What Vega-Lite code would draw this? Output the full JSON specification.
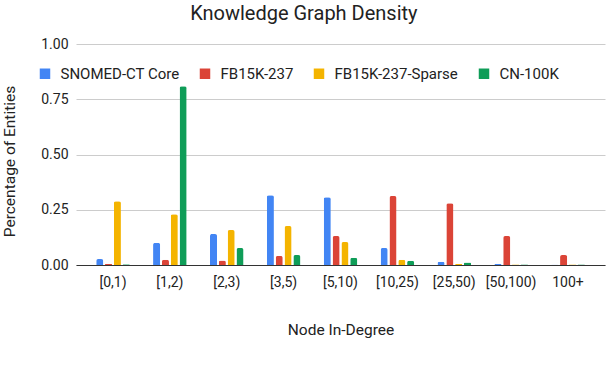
{
  "$schema": "https://vega.github.io/schema/vega-lite/v6.json",
  "autosize": {"type": "none"},
  "width": 529,
  "height": 221,
  "padding": {"left": 76, "top": 44, "right": 1, "bottom": 101},
  "background": "white",
  "title": {"text": "Knowledge Graph Density", "font": "Roboto", "fontSize": 20, "fontWeight": "normal", "color": "#222222", "anchor": "middle", "frame": "bounds", "offset": 13},
  "config": {
    "view": {"stroke": null},
    "font": "Roboto"
  },
  "data": {"values": [
    {"degree": "[0,1)", "dataset": "SNOMED-CT Core", "value": 0.027},
    {"degree": "[0,1)", "dataset": "FB15K-237", "value": 0.004},
    {"degree": "[0,1)", "dataset": "FB15K-237-Sparse", "value": 0.289},
    {"degree": "[0,1)", "dataset": "CN-100K", "value": 0.003},
    {"degree": "[1,2)", "dataset": "SNOMED-CT Core", "value": 0.100},
    {"degree": "[1,2)", "dataset": "FB15K-237", "value": 0.024},
    {"degree": "[1,2)", "dataset": "FB15K-237-Sparse", "value": 0.230},
    {"degree": "[1,2)", "dataset": "CN-100K", "value": 0.809},
    {"degree": "[2,3)", "dataset": "SNOMED-CT Core", "value": 0.140},
    {"degree": "[2,3)", "dataset": "FB15K-237", "value": 0.020},
    {"degree": "[2,3)", "dataset": "FB15K-237-Sparse", "value": 0.158},
    {"degree": "[2,3)", "dataset": "CN-100K", "value": 0.077},
    {"degree": "[3,5)", "dataset": "SNOMED-CT Core", "value": 0.316},
    {"degree": "[3,5)", "dataset": "FB15K-237", "value": 0.041},
    {"degree": "[3,5)", "dataset": "FB15K-237-Sparse", "value": 0.176},
    {"degree": "[3,5)", "dataset": "CN-100K", "value": 0.045},
    {"degree": "[5,10)", "dataset": "SNOMED-CT Core", "value": 0.307},
    {"degree": "[5,10)", "dataset": "FB15K-237", "value": 0.131},
    {"degree": "[5,10)", "dataset": "FB15K-237-Sparse", "value": 0.104},
    {"degree": "[5,10)", "dataset": "CN-100K", "value": 0.033},
    {"degree": "[10,25)", "dataset": "SNOMED-CT Core", "value": 0.077},
    {"degree": "[10,25)", "dataset": "FB15K-237", "value": 0.312},
    {"degree": "[10,25)", "dataset": "FB15K-237-Sparse", "value": 0.024},
    {"degree": "[10,25)", "dataset": "CN-100K", "value": 0.019},
    {"degree": "[25,50)", "dataset": "SNOMED-CT Core", "value": 0.015},
    {"degree": "[25,50)", "dataset": "FB15K-237", "value": 0.279},
    {"degree": "[25,50)", "dataset": "FB15K-237-Sparse", "value": 0.005},
    {"degree": "[25,50)", "dataset": "CN-100K", "value": 0.011},
    {"degree": "[50,100)", "dataset": "SNOMED-CT Core", "value": 0.005},
    {"degree": "[50,100)", "dataset": "FB15K-237", "value": 0.131},
    {"degree": "[50,100)", "dataset": "FB15K-237-Sparse", "value": 0.002},
    {"degree": "[50,100)", "dataset": "CN-100K", "value": 0.002},
    {"degree": "100+", "dataset": "SNOMED-CT Core", "value": 0.001},
    {"degree": "100+", "dataset": "FB15K-237", "value": 0.045},
    {"degree": "100+", "dataset": "FB15K-237-Sparse", "value": 0.002},
    {"degree": "100+", "dataset": "CN-100K", "value": 0.002}
  ]},
  "mark": {"type": "bar", "cornerRadiusTopLeft": 2, "cornerRadiusTopRight": 2},
  "encoding": {
    "x": {
      "field": "degree", "type": "nominal",
      "sort": ["[0,1)", "[1,2)", "[2,3)", "[3,5)", "[5,10)", "[10,25)", "[25,50)", "[50,100)", "100+"],
      "scale": {"paddingInner": 0.41, "paddingOuter": 0.355},
      "axis": {"title": "Node In-Degree", "labelAngle": 0, "labelFontSize": 14, "labelColor": "#222222", "labelPadding": 10, "ticks": false, "domainColor": "#333333", "domainWidth": 1.2, "titleFontSize": 15.5, "titleFontWeight": "normal", "titleColor": "#222222", "titlePadding": 33}
    },
    "xOffset": {
      "field": "dataset", "type": "nominal",
      "sort": ["SNOMED-CT Core", "FB15K-237", "FB15K-237-Sparse", "CN-100K"],
      "scale": {"paddingInner": 0.2, "paddingOuter": 0}
    },
    "y": {
      "field": "value", "type": "quantitative",
      "scale": {"domain": [0, 1]},
      "axis": {"title": "Percentage of Entities", "values": [0, 0.25, 0.5, 0.75, 1], "format": ".2f", "labelFontSize": 14, "labelColor": "#222222", "labelPadding": 8, "ticks": false, "domain": false, "gridColor": "#cccccc", "titleFontSize": 15.5, "titleFontWeight": "normal", "titleColor": "#222222", "titlePadding": 23, "titleY": 117}
    },
    "color": {
      "field": "dataset", "type": "nominal",
      "sort": ["SNOMED-CT Core", "FB15K-237", "FB15K-237-Sparse", "CN-100K"],
      "scale": {"range": ["#4285F4", "#DB4437", "#F4B400", "#0F9D58"]},
      "legend": {"title": null, "orient": "none", "direction": "horizontal", "legendX": -38.5, "legendY": 22, "symbolType": "square", "symbolSize": 110, "symbolStrokeWidth": 0, "labelFontSize": 15, "labelColor": "#222222", "labelOffset": 8, "columnPadding": 18}
    }
  }
}
